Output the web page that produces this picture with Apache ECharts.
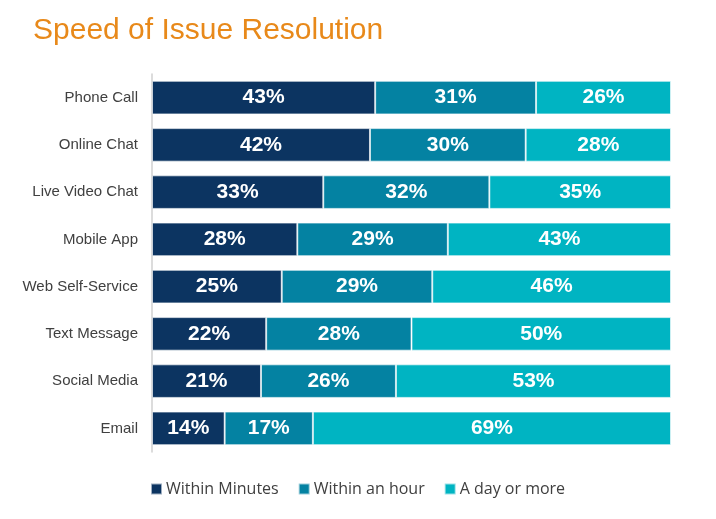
<!DOCTYPE html>
<html><head><meta charset="utf-8">
<script src="https://cdn.jsdelivr.net/npm/echarts@6/dist/echarts.min.js"></script>
<style>html,body{margin:0;padding:0;background:#fff}#c{width:716px;height:519px}</style>
</head><body><div id="c"></div>
<script>
const categories = ['Phone Call','Online Chat','Live Video Chat','Mobile App','Web Self-Service','Text Message','Social Media','Email'];
const withinMinutes = [43,42,33,28,25,22,21,14];
const withinHour = [31,30,32,29,29,28,26,17];
const dayOrMore = [26,28,35,43,46,50,53,69];
const seriesNames = ['Within Minutes','Within an hour','A day or more'];
const colors = ['#0c3461','#0482a2','#00b4c2'];

const chart = echarts.init(document.getElementById('c'));
const mk = (name, data, color) => ({
  name, type:'bar', stack:'s', data, barWidth:'71%',
  itemStyle:{color, borderColor:'rgba(255,255,255,0.6)', borderWidth:1},
  label:{show:true, position:'inside', formatter:'{c}%', color:'#fff', fontFamily:'Liberation Sans, Arial', fontWeight:'bold', fontSize:21},
  emphasis:{disabled:true}
});
chart.setOption({
  animation:false,
  color:colors,
  title:{text:'Speed of Issue Resolution', left:28, top:11, textStyle:{color:'#e8891a', fontFamily:'Liberation Sans, Arial', fontWeight:'normal', fontSize:30}},
  legend:{bottom:17, left:145, itemWidth:11, itemHeight:11, itemGap:19, icon:'rect',
    textStyle:{color:'#404040', fontFamily:'Open Sans, Liberation Sans', fontSize:16, padding:[0,0,0,-1]},
    data:seriesNames},
  grid:{left:152, right:45, top:74, bottom:67},
  xAxis:{type:'value', min:0, max:100, show:false},
  yAxis:{type:'category', data:categories, inverse:true,
    axisLine:{show:true, lineStyle:{color:'#d0d0d0', width:1.5}},
    axisTick:{show:false},
    axisLabel:{color:'#404040', fontFamily:'Liberation Sans, Arial', fontSize:15, margin:14}},
  series:[mk(seriesNames[0], withinMinutes, colors[0]), mk(seriesNames[1], withinHour, colors[1]), mk(seriesNames[2], dayOrMore, colors[2])]
});
</script></body></html>
